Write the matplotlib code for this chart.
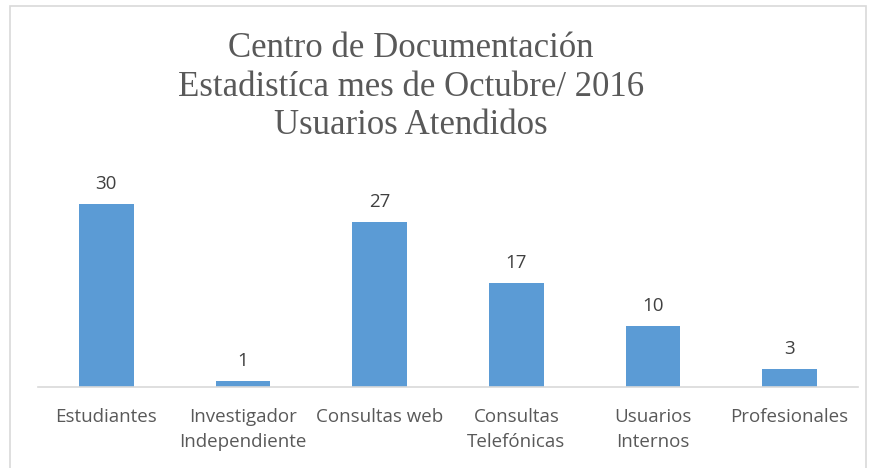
import matplotlib
matplotlib.use('Agg')
import matplotlib.pyplot as plt
from matplotlib.patches import Rectangle

categorias = ['Estudiantes', 'Investigador\nIndependiente', 'Consultas web',
              'Consultas\nTelefónicas', 'Usuarios\nInternos', 'Profesionales']
usuarios = [30, 1, 27, 17, 10, 3]

BAR_COLOR = '#5B9BD5'
TEXT_COLOR = '#595959'

fig = plt.figure(figsize=(8.74, 4.68), dpi=100)
ax = fig.add_axes([38 / 874, 81 / 468, 820 / 874, 0.47])

x = list(range(len(categorias)))
bars = ax.bar(x, usuarios, width=0.4, color=BAR_COLOR, zorder=2)
for xi, v in zip(x, usuarios):
    ax.annotate(str(v), (xi, v), xytext=(0, 8), textcoords='offset points',
                ha='center', va='bottom', fontsize=13.5, color='#404040',
                family='Open Sans')

ax.set_xlim(-0.5, len(categorias) - 0.5)
ax.set_ylim(0, 36)
ax.set_yticks([])
ax.set_xticks(x)
ax.set_xticklabels(categorias, fontsize=13.5, color=TEXT_COLOR, family='Open Sans',
                   linespacing=1.5)
ax.tick_params(axis='x', length=0, pad=15)
for s in ['top', 'right', 'left']:
    ax.spines[s].set_visible(False)
ax.spines['bottom'].set_color('#D9D9D9')
ax.spines['bottom'].set_linewidth(1.2)

fig.text(411 / 874, 1 - 87 / 468,
         'Centro de Documentación\nEstadistíca mes de Octubre/ 2016\nUsuarios Atendidos',
         ha='center', va='center', fontsize=25, color=TEXT_COLOR,
         family='Liberation Serif', linespacing=1.22)

fig.patches.append(Rectangle((10 / 874, -0.1), 856 / 874, 1 - 6 / 468 + 0.1,
                             transform=fig.transFigure, fill=False,
                             edgecolor='#D9D9D9', linewidth=1.2))

fig.savefig('out.png', dpi=100, facecolor='white')
